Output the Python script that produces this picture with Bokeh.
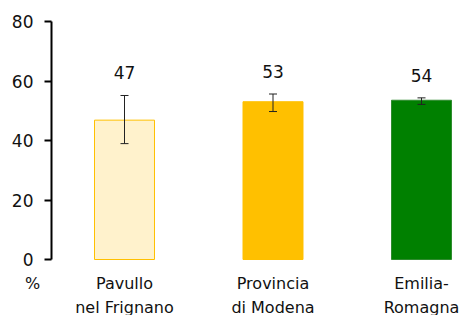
from bokeh.plotting import figure
from bokeh.models import ColumnDataSource, Whisker, LabelSet, FixedTicker, Range1d, TeeHead
from bokeh.core.properties import value
from bokeh.embed import file_html
from bokeh.resources import INLINE

categories = ["Pavullo\nnel Frignano", "Provincia\ndi Modena", "Emilia-\nRomagna"]
values = [46.9, 53.1, 53.6]
lower = [39.0, 49.8, 52.2]
upper = [55.2, 55.7, 54.4]
value_labels = ["47", "53", "54"]
unit_label = "%"
fills = ["#FFF2CC", "#FFC000", "#008000"]
lines = ["#FFC000", "#FFC000", "#2E8B2E"]
y_ticks = [0, 20, 40, 60, 80]

xs = list(range(len(categories)))
src = ColumnDataSource(dict(x=xs, top=values, lower=lower, upper=upper,
                            lab=value_labels, fill=fills, line=lines))

FONT = "DejaVu Sans"
W, H = 463, 315
# screen layout of the plotting area (pixels)
AX_LEFT, AX_TOP, AX_BOTTOM = 51, 21.3, 259
FIRST_CENTER, PX_PER_CAT = 124, 148.5
PX_PER_UNIT = (AX_BOTTOM - AX_TOP) / 80

x_start = -FIRST_CENTER / PX_PER_CAT
x_end = (W - FIRST_CENTER) / PX_PER_CAT
y_start = -(H - AX_BOTTOM) / PX_PER_UNIT
y_end = AX_BOTTOM / PX_PER_UNIT
y_axis_x = (AX_LEFT - FIRST_CENTER) / PX_PER_CAT
pct_x = (32 - FIRST_CENTER) / PX_PER_CAT

p = figure(width=W, height=H, output_backend="svg", toolbar_location=None,
           x_range=Range1d(x_start, x_end), y_range=Range1d(y_start, y_end),
           min_border_left=0, min_border_right=0, min_border_top=0, min_border_bottom=0)
p.outline_line_color = None
p.xgrid.visible = False
p.ygrid.visible = False
p.background_fill_color = "white"
p.border_fill_color = "white"

p.vbar(x="x", top="top", width=0.404, bottom=0, source=src,
       fill_color="fill", line_color="line", line_width=1)

w = Whisker(base="x", lower="lower", upper="upper", source=src,
            line_color="#222222", line_width=1, level="overlay",
            upper_head=TeeHead(size=8, line_color="#222222", line_width=1),
            lower_head=TeeHead(size=8, line_color="#222222", line_width=1))
p.add_layout(w)

ls = LabelSet(x="x", y="upper", text="lab", source=src, y_offset=16,
              text_align="center", text_baseline="bottom",
              text_font=value(FONT), text_font_size="17px", text_color="#111111")
p.add_layout(ls)

p.yaxis.fixed_location = y_axis_x
p.yaxis.bounds = (0, 80)
p.yaxis.ticker = FixedTicker(ticks=y_ticks)
p.yaxis.axis_line_width = 2
p.yaxis.axis_line_color = "black"
p.yaxis.major_tick_out = 7
p.yaxis.major_tick_in = 0
p.yaxis.major_tick_line_width = 2
p.yaxis.minor_tick_line_color = None
p.yaxis.major_label_standoff = 11
p.yaxis.major_label_text_font = FONT
p.yaxis.major_label_text_font_size = "17px"
p.yaxis.major_label_text_color = "#111111"

x_ticks = [pct_x] + xs
p.xaxis.fixed_location = 0
p.xaxis.ticker = FixedTicker(ticks=x_ticks)
overrides = {pct_x: unit_label}
overrides.update({i: c for i, c in zip(xs, categories)})
p.xaxis.major_label_overrides = overrides
p.xaxis.axis_line_color = None
p.xaxis.major_tick_line_color = None
p.xaxis.minor_tick_line_color = None
p.xaxis.major_label_standoff = 8
p.xaxis.major_label_text_font = FONT
p.xaxis.major_label_text_font_size = "16px"
p.xaxis.major_label_text_line_height = 1.28
p.xaxis.major_label_text_color = "#111111"

open("out.html", "w").write(file_html(p, INLINE))
